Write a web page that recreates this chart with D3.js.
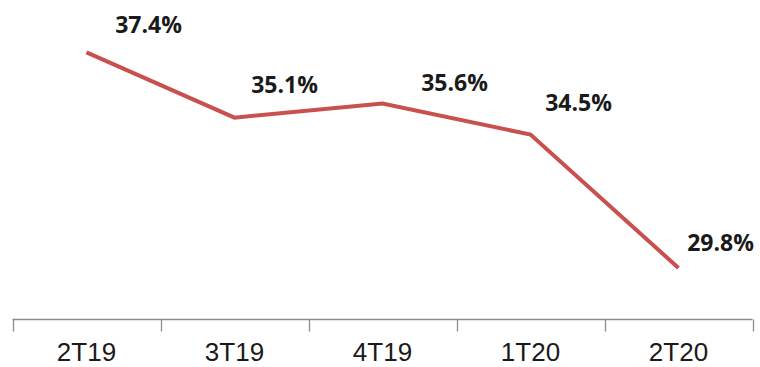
<!DOCTYPE html>
<html>
<head>
<meta charset="utf-8">
<script src="https://cdn.jsdelivr.net/npm/d3@7"></script>
<style>
  body { margin: 0; background: #fff; overflow: hidden; }
  svg { display: block; }
</style>
</head>
<body>
<div id="chart"></div>
<script>
// Data
var quarters = ["2T19", "3T19", "4T19", "1T20", "2T20"];
var margins = [37.4, 35.1, 35.6, 34.5, 29.8];

// Hand-placed label offsets (center dx, baseline dy) relative to each point
var labelDx = [62, 50, 72, 48, 42];
var labelDy = [-19, -25, -12, -24, -17];

var w = 760;
var h = 367;

var svg = d3.select("#chart")
    .append("svg")
    .attr("width", w)
    .attr("height", h);

// Category scale: one band per quarter, ticks on band edges
var x = d3.scaleBand()
    .domain(quarters)
    .range([12.5, 752.5])
    .padding(0);

var y = d3.scaleLinear()
    .domain([28, 39])
    .range([319, 7]);

// x axis line
var axisY = y(28) + 0.5;
svg.append("line")
    .attr("x1", x.range()[0])
    .attr("x2", x.range()[1])
    .attr("y1", axisY)
    .attr("y2", axisY)
    .style("stroke", "#8c8c8c")
    .style("stroke-width", 1.3);

// ticks between categories
var edges = quarters.map((q) => x(q)).concat([x.range()[1]]);
svg.selectAll(".tick")
    .data(edges)
    .enter()
    .append("line")
    .attr("class", "tick")
    .attr("x1", (d) => Math.round(d) + 0.5)
    .attr("x2", (d) => Math.round(d) + 0.5)
    .attr("y1", axisY)
    .attr("y2", axisY + 12)
    .style("stroke", "#8c8c8c")
    .style("stroke-width", 1.3);

// category labels
svg.selectAll(".cat")
    .data(quarters)
    .enter()
    .append("text")
    .attr("class", "cat")
    .attr("x", (d) => x(d) + x.bandwidth() / 2)
    .attr("y", 361)
    .attr("text-anchor", "middle")
    .style("font-family", "'Liberation Sans', Arial, sans-serif")
    .style("font-size", "26px")
    .style("fill", "#1a1a1a")
    .text((d) => d);

// the line
var line = d3.line()
    .x((d, i) => x(quarters[i]) + x.bandwidth() / 2)
    .y((d) => y(d));

svg.append("path")
    .datum(margins)
    .attr("d", line)
    .style("fill", "none")
    .style("stroke", "#c8504e")
    .style("stroke-width", 4)
    .style("stroke-linejoin", "miter");

// value labels
svg.selectAll(".val")
    .data(margins)
    .enter()
    .append("text")
    .attr("class", "val")
    .attr("x", (d, i) => x(quarters[i]) + x.bandwidth() / 2 + labelDx[i])
    .attr("y", (d, i) => y(d) + labelDy[i])
    .attr("text-anchor", "middle")
    .style("font-family", "'Open Sans', sans-serif")
    .style("font-weight", "bold")
    .style("font-size", "23px")
    .style("fill", "#1a1a1a")
    .text((d) => d.toFixed(1) + "%");
</script>
</body>
</html>
